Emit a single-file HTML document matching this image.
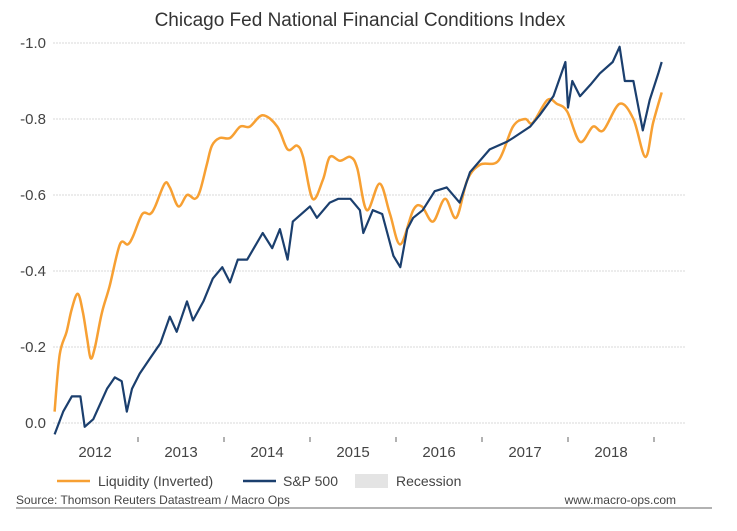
<!DOCTYPE html>
<html><head><meta charset="utf-8"><style>
body{margin:0;background:#fff;}
svg{display:block;font-family:"Liberation Sans",Arial,sans-serif;}
</style></head><body>
<svg id="chart" width="737" height="531" viewBox="0 0 737 531">
<text x="360" y="26" text-anchor="middle" font-size="19" fill="#333">Chicago Fed National Financial Conditions Index</text>
<g id="grid"></g><g id="yticks"></g><g id="xticks"></g><g id="series"></g>
<g>
<line x1="57" y1="481" x2="90" y2="481" stroke="#f7a033" stroke-width="2.5"/>
<text x="98" y="486" font-size="14" fill="#444">Liquidity (Inverted)</text>
<line x1="243" y1="481" x2="276" y2="481" stroke="#1b3f6e" stroke-width="2.5"/>
<text x="283" y="486" font-size="14" fill="#444">S&amp;P 500</text>
<rect x="355" y="474" width="33" height="14" fill="#e4e4e4"/>
<text x="396" y="486" font-size="14" fill="#444">Recession</text>
</g>
<text x="16" y="504" font-size="12" fill="#444">Source: Thomson Reuters Datastream / Macro Ops</text>
<text x="676" y="504" text-anchor="end" font-size="12" fill="#444">www.macro-ops.com</text>
<line x1="16" y1="508" x2="712" y2="508" stroke="#666" stroke-width="1"/>
</svg>
<script>
const yTickValues=[0,0.2,0.4,0.6,0.8,1.0];
const yTickLabels=["0.0","-0.2","-0.4","-0.6","-0.8","-1.0"];
const yearBoundaries=[2013,2014,2015,2016,2017,2018,2019];
const yearLabels=["2012","2013","2014","2015","2016","2017","2018"];
const liqDates=[2012.03,2012.09,2012.17,2012.23,2012.30,2012.36,2012.41,2012.45,2012.50,2012.58,2012.67,2012.79,2012.88,2012.94,2013.05,2013.14,2013.20,2013.31,2013.37,2013.47,2013.57,2013.66,2013.72,2013.80,2013.86,2013.95,2014.07,2014.19,2014.30,2014.45,2014.62,2014.74,2014.85,2014.92,2015.03,2015.15,2015.23,2015.35,2015.47,2015.55,2015.66,2015.81,2015.93,2016.05,2016.20,2016.30,2016.43,2016.57,2016.70,2016.83,2016.98,2017.19,2017.36,2017.50,2017.59,2017.76,2017.87,2017.99,2018.14,2018.29,2018.41,2018.60,2018.76,2018.90,2018.99,2019.09];
const liqValues=[0.03,0.18,0.24,0.30,0.34,0.29,0.22,0.17,0.20,0.29,0.36,0.47,0.47,0.49,0.55,0.55,0.57,0.63,0.62,0.57,0.60,0.59,0.61,0.68,0.73,0.75,0.75,0.78,0.78,0.81,0.78,0.72,0.73,0.70,0.59,0.64,0.70,0.69,0.70,0.67,0.56,0.63,0.55,0.47,0.56,0.57,0.53,0.59,0.54,0.64,0.68,0.69,0.78,0.80,0.79,0.85,0.84,0.82,0.74,0.78,0.77,0.84,0.80,0.70,0.79,0.87];
const spDates=[2012.03,2012.13,2012.23,2012.33,2012.38,2012.48,2012.64,2012.73,2012.81,2012.87,2012.93,2013.02,2013.14,2013.26,2013.37,2013.45,2013.57,2013.64,2013.76,2013.87,2013.98,2014.07,2014.16,2014.27,2014.45,2014.56,2014.65,2014.74,2014.80,2015.00,2015.08,2015.23,2015.33,2015.47,2015.58,2015.62,2015.73,2015.84,2015.97,2016.05,2016.13,2016.20,2016.31,2016.45,2016.59,2016.74,2016.86,2017.09,2017.29,2017.36,2017.56,2017.67,2017.83,2017.97,2018.00,2018.05,2018.14,2018.26,2018.37,2018.52,2018.60,2018.66,2018.76,2018.87,2018.95,2019.05,2019.09];
const spValues=[-0.03,0.03,0.07,0.07,-0.01,0.01,0.09,0.12,0.11,0.03,0.09,0.13,0.17,0.21,0.28,0.24,0.32,0.27,0.32,0.38,0.41,0.37,0.43,0.43,0.50,0.46,0.51,0.43,0.53,0.57,0.54,0.58,0.59,0.59,0.56,0.50,0.56,0.55,0.44,0.41,0.51,0.54,0.56,0.61,0.62,0.58,0.66,0.72,0.74,0.75,0.78,0.81,0.86,0.95,0.83,0.90,0.86,0.89,0.92,0.95,0.99,0.90,0.90,0.77,0.85,0.92,0.95];
const NS='http://www.w3.org/2000/svg';
function X(t){return 52+86*(t-2012);}
function Y(v){return 423-380*v;}
function mk(tag,attrs,parent){const e=document.createElementNS(NS,tag);for(const k in attrs)e.setAttribute(k,attrs[k]);parent.appendChild(e);return e;}
const grid=document.getElementById('grid'),yt=document.getElementById('yticks'),xt=document.getElementById('xticks'),ser=document.getElementById('series');
yTickValues.forEach((v,i)=>{
 const g=mk('line',{x1:53,x2:685,y1:Y(v),y2:Y(v),stroke:'#d8d8d8','stroke-width':1,'stroke-dasharray':'2,1'},grid);
 
 
 const t=mk('text',{x:46,y:Y(v)+5,'text-anchor':'end','font-size':15,fill:'#444'},yt);
 t.textContent=yTickLabels[i];
 
 
});
yearBoundaries.forEach(b=>{
 const l=mk('line',{x1:X(b),x2:X(b),y1:437,y2:442,stroke:'#666','stroke-width':1},xt);
 
 
});
yearLabels.forEach((s,i)=>{
 const t=mk('text',{x:X(2012.5+i),y:457,'text-anchor':'middle','font-size':15,fill:'#444'},xt);
 t.textContent=s;
 
 
});
function pts(d,v){return d.map((t,i)=>X(t).toFixed(1)+','+Y(v[i]).toFixed(1)).join(' ');}
function smooth(d,v){
 const p=d.map((t,i)=>[X(t),Y(v[i])]);
 let s='M'+p[0][0].toFixed(1)+','+p[0][1].toFixed(1);
 for(let i=0;i<p.length-1;i++){
  const a=p[Math.max(0,i-1)],b=p[i],c=p[i+1],e=p[Math.min(p.length-1,i+2)];
  const c1=[b[0]+(c[0]-a[0])/6,b[1]+(c[1]-a[1])/6],c2=[c[0]-(e[0]-b[0])/6,c[1]-(e[1]-b[1])/6];
  s+=' C'+c1.map(n=>n.toFixed(1)).join(',')+' '+c2.map(n=>n.toFixed(1)).join(',')+' '+c[0].toFixed(1)+','+c[1].toFixed(1);
 }
 return s;
}
const lo=mk('path',{d:smooth(liqDates,liqValues),fill:'none',stroke:'#f7a033','stroke-width':2.5,'stroke-linejoin':'round'},ser);


const sp=mk('polyline',{points:pts(spDates,spValues),fill:'none',stroke:'#1b3f6e','stroke-width':2.2,'stroke-linejoin':'round'},ser);


</script>
</body></html>
